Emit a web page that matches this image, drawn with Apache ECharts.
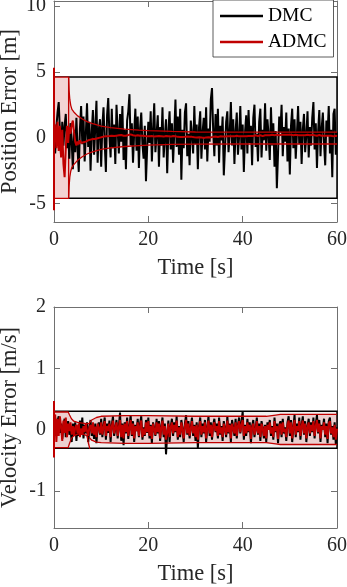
<!DOCTYPE html>
<html>
<head>
<meta charset="utf-8">
<script src="https://cdn.jsdelivr.net/npm/echarts@6/dist/echarts.min.js"></script>
<style>
html,body{margin:0;padding:0;background:#fff;}
#c{width:347px;height:587px;}
</style>
</head>
<body>
<div id="c"></div>
<script>
// ---------------- DATA ----------------
const dt = 0.25; // sample step [s]
const xTicks = [0, 20, 40, 60];
const posTicks = [-5, 0, 5, 10];
const velTicks = [-1, 0, 1, 2];

// Position error, DMC (black)
const posDMC = [
 0.0,-1.2,0.8,1.9,2.7,0.5,-1.4,1.2,-0.6,0.9,1.8,-0.8,0.4,-1.6,1.1,-0.3,-2.4,0.6,-1.1,1.5,
 -0.9,-2.6,0.7,2.4,-0.5,1.6,-1.8,0.3,2.6,-0.7,1.2,-2.5,0.4,2.1,-1.3,0.8,2.8,-1.9,0.6,1.4,
 -2.2,0.9,2.3,-0.4,-2.6,1.7,3.0,0.2,-1.5,2.2,-0.8,1.0,-2.0,2.5,0.5,-1.2,1.8,-0.3,2.4,-1.7,
 0.6,-2.4,1.3,2.0,3.3,-0.6,1.1,-1.9,0.4,2.2,-1.0,1.6,-2.3,0.7,1.9,-0.5,-1.6,0.9,-3.3,-0.8,
 1.2,-0.4,2.0,-1.8,0.6,2.6,-1.1,0.3,1.7,-2.2,0.8,-0.6,2.3,-1.5,0.1,1.4,-2.7,0.5,2.0,-0.9,
 1.1,-1.9,0.4,2.9,-0.7,1.6,-1.3,2.2,-3.2,0.6,-0.8,1.9,2.6,-1.4,0.3,-2.1,1.3,0.2,-1.2,2.4,
 -0.5,1.0,-2.4,0.8,2.0,-1.6,0.4,1.5,-0.9,2.3,-1.8,0.7,-0.3,2.9,3.76,0.5,-1.4,1.8,-0.6,2.2,
 -1.9,0.9,-0.2,1.6,-2.86,-0.8,1.2,2.0,-1.1,0.3,2.7,-0.6,1.4,-2.0,0.5,1.9,-1.3,0.1,2.4,-0.9,
 1.0,-2.6,0.4,1.7,-1.2,2.1,-0.4,0.9,-2.1,1.5,2.5,-0.7,0.3,-1.8,1.2,2.2,-1.5,0.6,-0.2,2.6,
 -1.0,1.4,0.2,-1.7,2.3,-0.6,1.1,-2.2,0.5,-3.83,-1.2,1.6,0.4,2.5,-1.4,0.8,-0.3,1.9,-1.8,0.7,
 -2.8,0.9,2.2,-0.8,1.4,-1.6,0.3,2.4,-0.5,1.2,-2.0,0.6,1.8,-1.1,0.2,2.0,-1.5,0.8,-0.6,1.5,
 2.7,-0.9,1.1,-2.3,0.5,2.1,-1.4,0.7,1.9,-0.4,-2.1,1.3,0.2,2.4,-1.2,0.6,-3.0,1.8,2.2,-1.3,
 0.4
];
// Position error, ADMC (red)
const posADMC = [
 0.2,1.0,-0.8,1.2,-1.0,0.9,-1.5,0.6,-2.0,-3.0,-0.8,0.9,-0.4,0.8,0.3,1.0,1.3,0.4,-0.3,-0.6,
 -0.3,-0.5,-0.2,-0.4,-0.3,-0.35,-0.2,-0.3,-0.25,-0.2,-0.3,-0.15,-0.2,-0.1,-0.2,-0.1,-0.15,-0.05,-0.1,0.0,
 -0.05,0.05,0.0,0.1,0.05,0.1,0.08,0.12,0.1,0.15,0.1,0.12,0.2,0.15,0.1,0.18,0.15,0.2,0.12,0.15,
 0.2,0.15,0.25,0.2,0.3,0.25,0.2,0.18,0.22,0.15,0.2,0.18,0.12,0.15,0.2,0.15,0.1,0.12,0.15,0.1,
 0.12,0.1,0.15,0.12,0.1,0.08,0.12,0.1,0.15,0.12,0.08,0.1,0.05,0.08,0.1,0.12,0.08,0.1,0.06,0.08,
 0.1,0.12,0.08,0.1,0.05,0.06,0.08,0.05,0.02,0.05,0.08,0.06,0.1,0.08,0.05,0.06,0.04,0.06,0.05,0.03,
 0.05,0.02,0.0,0.03,0.05,0.02,0.0,-0.02,0.0,0.02,0.0,0.03,0.05,0.02,0.04,0.06,0.05,0.08,0.06,0.05,
 0.08,0.1,0.06,0.08,0.1,0.08,0.12,0.1,0.08,0.1,0.12,0.1,0.08,0.1,0.12,0.15,0.12,0.1,0.12,0.1,
 0.08,0.1,0.12,0.1,0.08,0.12,0.15,0.12,0.1,0.12,0.15,0.18,0.15,0.12,0.15,0.18,0.15,0.12,0.15,0.18,
 0.2,0.18,0.15,0.18,0.2,0.22,0.2,0.18,0.2,0.22,0.2,0.18,0.2,0.22,0.25,0.22,0.2,0.22,0.25,0.22,
 0.2,0.22,0.2,0.18,0.2,0.22,0.2,0.18,0.15,0.18,0.2,0.18,0.15,0.18,0.2,0.22,0.2,0.18,0.2,0.22,
 0.2,0.18,0.2,0.15,0.18,0.2,0.18,0.15,0.12,0.15,0.18,0.15,0.12,0.15,0.18,0.15,0.12,0.1,0.12,0.15,
 0.12
];
// Position: initial spike at t = 0 (ADMC)
const posSpike = [5.3, -5.5];
// Position: DMC bound box (grey) and ADMC initial bound (pink)
const posBoxT = [0, 60];
const posBoxY = [-4.6, 4.6];
const posInitT = [0, 3.1];
// Position: ADMC adaptive bound
const posEnvT  = [3.1, 3.2, 3.35, 3.55, 3.8, 4.2, 5, 6, 7, 8, 10, 12, 15, 18, 20, 25, 30, 40, 60];
const posEnvUp = [4.6, 3.6, 2.9, 2.45, 2.15, 1.95, 1.65, 1.42, 1.22, 1.08, 0.87, 0.76, 0.65, 0.57, 0.53, 0.47, 0.43, 0.42, 0.42];
const posEnvLo = [-4.6, -3.7, -3.0, -2.55, -2.25, -2.05, -1.72, -1.45, -1.24, -1.1, -0.89, -0.78, -0.67, -0.6, -0.56, -0.51, -0.49, -0.48, -0.48];

// Velocity error, DMC (black)
const velDMC = [
 0.05,0.2,-0.1,0.15,0.22,-0.05,0.1,-0.15,0.08,0.18,-0.12,0.05,0.14,-0.08,0.02,-0.2,0.1,-0.05,0.12,-0.18,
 0.06,-0.1,0.15,-0.02,0.2,-0.14,0.08,-0.06,0.12,-0.2,0.04,0.16,-0.1,0.02,-0.15,0.1,-0.22,0.05,0.12,-0.08,
 0.18,-0.12,0.06,0.2,-0.16,0.1,-0.05,0.15,-0.2,0.08,0.22,-0.1,0.02,0.16,-0.14,0.06,0.28,-0.18,0.1,-0.25,
 0.12,-0.06,0.2,-0.15,0.05,0.24,-0.1,0.14,-0.2,0.08,-0.02,0.18,-0.12,0.1,0.22,-0.16,0.04,-0.1,0.16,-0.05,
 0.2,-0.14,0.08,-0.22,0.12,0.02,-0.1,0.18,-0.06,0.14,-0.18,0.06,0.2,-0.12,0.1,-0.4,-0.08,0.15,-0.2,0.05,
 0.18,-0.1,0.12,-0.04,0.22,-0.16,0.06,-0.12,0.16,0.02,-0.2,0.1,0.24,-0.08,0.14,-0.14,0.04,0.2,-0.1,0.08,
 -0.18,0.12,-0.3,0.06,0.2,-0.12,0.1,-0.06,0.16,-0.2,0.04,0.22,-0.1,0.12,-0.16,0.08,0.18,-0.04,0.1,-0.14,
 0.2,-0.08,0.06,-0.18,0.14,0.02,-0.12,0.22,-0.06,0.1,-0.2,0.16,0.04,-0.1,0.18,-0.14,0.08,0.2,-0.06,0.12,
 0.3,-0.16,0.08,-0.1,0.18,-0.04,0.12,-0.22,0.06,0.16,-0.12,0.02,0.2,-0.08,0.1,-0.18,0.14,0.04,-0.14,0.08,
 -0.2,0.12,0.02,0.16,-0.1,0.06,-0.16,0.2,-0.04,0.1,-0.22,0.08,0.14,-0.12,0.18,-0.06,0.04,-0.18,0.12,0.22,
 -0.1,0.16,-0.2,0.06,0.24,-0.12,0.1,-0.04,0.2,-0.16,0.08,0.22,-0.08,0.14,-0.2,0.06,0.18,-0.1,0.12,-0.04,
 0.2,-0.14,0.1,0.24,-0.06,0.16,-0.2,0.08,0.02,0.18,-0.12,0.1,-0.22,0.14,0.2,-0.08,0.06,-0.16,0.12,-0.24,
 0.04
];
// Velocity error, ADMC (red)
const velADMC = [
 0.0,0.25,-0.2,0.18,-0.1,0.22,0.05,-0.18,0.15,-0.05,0.2,-0.12,0.1,-0.02,0.12,-0.08,0.06,-0.1,0.04,0.08,
 -0.06,0.1,-0.12,0.02,-0.08,0.06,-0.04,0.1,-0.02,-0.1,0.04,0.08,-0.06,0.12,-0.08,0.05,-0.12,0.1,0.02,-0.06,
 0.12,-0.08,0.04,0.14,-0.1,0.06,-0.02,0.1,-0.12,0.05,0.15,-0.06,0.02,0.12,-0.1,0.04,0.16,-0.12,0.08,-0.14,
 0.1,-0.04,0.14,-0.1,0.03,0.16,-0.08,0.1,-0.14,0.06,-0.02,0.12,-0.1,0.06,0.15,-0.12,0.02,-0.08,0.12,-0.04,
 0.14,-0.1,0.06,-0.15,0.1,0.0,-0.08,0.12,-0.04,0.1,-0.14,0.04,0.15,-0.08,0.06,-0.16,-0.04,0.1,-0.12,0.04,
 0.12,-0.06,0.08,-0.02,0.15,-0.12,0.04,-0.08,0.12,0.0,-0.14,0.06,0.16,-0.06,0.1,-0.1,0.02,0.14,-0.06,0.06,
 -0.12,0.08,-0.16,0.04,0.14,-0.08,0.06,-0.04,0.12,-0.14,0.02,0.15,-0.06,0.08,-0.12,0.06,0.12,-0.02,0.06,-0.1,
 0.14,-0.06,0.04,-0.12,0.1,0.0,-0.08,0.15,-0.04,0.08,-0.14,0.1,0.02,-0.06,0.12,-0.1,0.06,0.14,-0.04,0.08,
 0.16,-0.1,0.06,-0.06,0.12,-0.02,0.08,-0.15,0.04,0.1,-0.08,0.0,0.14,-0.06,0.06,-0.12,0.1,0.02,-0.1,0.06,
 -0.14,0.08,0.0,0.12,-0.06,0.04,-0.12,0.14,-0.02,0.06,-0.15,0.06,0.1,-0.08,0.12,-0.04,0.02,-0.12,0.08,0.15,
 -0.06,0.12,-0.14,0.04,0.16,-0.08,0.06,-0.02,0.14,-0.1,0.06,0.15,-0.06,0.1,-0.14,0.04,0.12,-0.06,0.08,-0.02,
 0.14,-0.1,0.06,0.16,-0.04,0.1,-0.14,0.06,0.0,0.12,-0.08,0.06,-0.15,0.1,0.14,-0.06,0.04,-0.12,0.08,-0.16,
 0.02
];
const velSpike = [0.47, -0.45];
const velBoxT = [0, 60];
const velBoxY = [-0.3, 0.3];
// Velocity: ADMC bound, initial segment and adaptive segment
const velEnv1T  = [0, 3, 3.3, 3.7, 4.2, 5, 6, 7, 7.3, 7.6];
const velEnv1Up = [0.29, 0.29, 0.24, 0.18, 0.14, 0.12, 0.11, 0.1, 0.1, 0.1];
const velEnv1Lo = [-0.29, -0.29, -0.22, -0.14, -0.1, -0.07, -0.06, -0.1, -0.22, -0.31];
const velEnv2T  = [7.4, 8, 9, 10, 15, 20, 30, 40, 45, 47, 48, 55, 60];
const velEnv2Up = [0.1, 0.16, 0.2, 0.22, 0.23, 0.23, 0.22, 0.22, 0.22, 0.24, 0.25, 0.25, 0.25];
const velEnv2Lo = [-0.12, -0.17, -0.2, -0.21, -0.22, -0.22, -0.21, -0.21, -0.21, -0.23, -0.24, -0.24, -0.24];

// ---------------- BUILD ----------------
const FONT = 'Liberation Serif';
const RED = '#c00000';
const PINK = '#f3d3d3';
const PINK_A = 'rgba(205,0,0,0.14)';

const series_t = arr => arr.map((v, i) => [i * dt, v]);
const pairs = (ts, ys) => ts.map((t, i) => [t, ys[i]]);
const rectPts = (ts, ys) => [[ts[0], ys[0]], [ts[1], ys[0]], [ts[1], ys[1]], [ts[0], ys[1]]];
const bandPts = (ts, up, lo) => pairs(ts, up).concat(pairs(ts, lo).reverse());

function poly(points, style, xi, yi, z) {
  return {
    type: 'custom', xAxisIndex: xi, yAxisIndex: yi, silent: true, z: z || 2,
    data: [[points[0][0], points[0][1]]],
    renderItem: (params, api) => ({
      type: 'polygon',
      shape: { points: points.map(p => api.coord(p)) },
      style: style
    })
  };
}
function line(name, data, color, width, xi, yi, z) {
  return {
    name: name, type: 'line', xAxisIndex: xi, yAxisIndex: yi, data: data,
    symbol: 'none', showSymbol: false, silent: true, z: z || 3,
    lineStyle: { color: color, width: width }, itemStyle: { color: color }
  };
}

const axisLineStyle = { lineStyle: { color: '#707070', width: 1 } };
function xAx(grid, show) {
  return {
    type: 'value', gridIndex: grid, min: 0, max: 60, interval: 20,
    position: show ? 'bottom' : 'top',
    axisLine: Object.assign({ show: true, onZero: false }, axisLineStyle),
    axisTick: { show: true, inside: true, length: 6, customValues: xTicks, lineStyle: { color: '#707070' } },
    axisLabel: { show: show, margin: 8, customValues: xTicks, color: '#262626', fontFamily: FONT, fontSize: 20 },
    splitLine: { show: false },
    name: show ? 'Time [s]' : '', nameLocation: 'middle', nameGap: 35, nameMoveOverlap: false,
    nameTextStyle: { fontFamily: FONT, fontSize: 22.5, color: '#262626' }
  };
}
function yAx(grid, show, min, max, ticks, name) {
  return {
    type: 'value', gridIndex: grid, min: min, max: max,
    position: show ? 'left' : 'right',
    axisLine: Object.assign({ show: true, onZero: false }, axisLineStyle),
    axisTick: { show: true, inside: true, length: 6, customValues: ticks, lineStyle: { color: '#707070' } },
    axisLabel: { show: show, margin: 8, customValues: ticks, color: '#262626', fontFamily: FONT, fontSize: 20 },
    splitLine: { show: false },
    name: show ? name : '', nameLocation: 'middle', nameGap: 32, nameMoveOverlap: false,
    nameTextStyle: { fontFamily: FONT, fontSize: 22.5, color: '#262626' }
  };
}

const option = {
  animation: false,
  backgroundColor: '#ffffff',
  grid: [
    { left: 54, top: 1, width: 283, height: 221, containLabel: false, outerBoundsMode: 'none' },
    { left: 54, top: 307, width: 283, height: 221, containLabel: false, outerBoundsMode: 'none' }
  ],
  xAxis: [xAx(0, true), xAx(0, false), xAx(1, true), xAx(1, false)],
  yAxis: [
    yAx(0, true, -6.4, 10.37, posTicks, 'Position Error [m]'),
    yAx(0, false, -6.4, 10.37, posTicks, ''),
    yAx(1, true, -1.6, 2, velTicks, 'Velocity Error [m/s]'),
    yAx(1, false, -1.6, 2, velTicks, '')
  ],
  legend: {
    data: [{ name: 'DMC', icon: 'rect' }, { name: 'ADMC', icon: 'rect' }],
    orient: 'vertical', left: 213, top: 0,
    itemWidth: 43, itemHeight: 2.5, itemGap: 6,
    padding: [6, 7, 5, 7],
    backgroundColor: '#ffffff', borderColor: '#333333', borderWidth: 0.8, borderRadius: 0,
    selectedMode: false,
    textStyle: { fontFamily: FONT, fontSize: 19.5, color: '#000' }
  },
  series: [
    // ---- position ----
    poly(rectPts(posBoxT, posBoxY), { fill: '#f0f0f0', stroke: '#000', lineWidth: 1.5 }, 0, 0, 1),
    poly(bandPts(posEnvT, posEnvUp, posEnvLo), { fill: PINK_A }, 0, 0, 2),
    poly(rectPts(posInitT, posBoxY), { fill: PINK, stroke: RED, lineWidth: 1.3 }, 0, 0, 2),
    line('DMC', series_t(posDMC), '#000000', 2, 0, 0, 3),
    line('ADMC', series_t(posADMC), RED, 2, 0, 0, 4),
    line('posUp', pairs(posEnvT, posEnvUp), RED, 1.3, 0, 0, 5),
    line('posLo', pairs(posEnvT, posEnvLo), RED, 1.3, 0, 0, 5),
    line('posSpike', [[0, posSpike[0]], [0, posSpike[1]]], RED, 2, 0, 0, 5),
    // ---- velocity ----
    poly(rectPts(velBoxT, velBoxY), { fill: '#f0f0f0', stroke: '#000', lineWidth: 1.5 }, 2, 2, 1),
    poly(bandPts(velEnv1T, velEnv1Up, velEnv1Lo), { fill: PINK_A }, 2, 2, 2),
    poly(bandPts(velEnv2T, velEnv2Up, velEnv2Lo), { fill: PINK_A }, 2, 2, 2),
    line('DMC', series_t(velDMC), '#000000', 2, 2, 2, 3),
    line('ADMC', series_t(velADMC), RED, 2, 2, 2, 4),
    line('velUp1', pairs(velEnv1T, velEnv1Up), RED, 1.3, 2, 2, 5),
    line('velLo1', pairs(velEnv1T, velEnv1Lo), RED, 1.3, 2, 2, 5),
    line('velUp2', pairs(velEnv2T, velEnv2Up), RED, 1.3, 2, 2, 5),
    line('velLo2', pairs(velEnv2T, velEnv2Lo), RED, 1.3, 2, 2, 5),
    line('velSpike', [[0, velSpike[0]], [0, velSpike[1]]], RED, 2, 2, 2, 5)
  ]
};

const chart = echarts.init(document.getElementById('c'), null, { renderer: 'canvas' });
chart.setOption(option);
</script>
</body>
</html>
